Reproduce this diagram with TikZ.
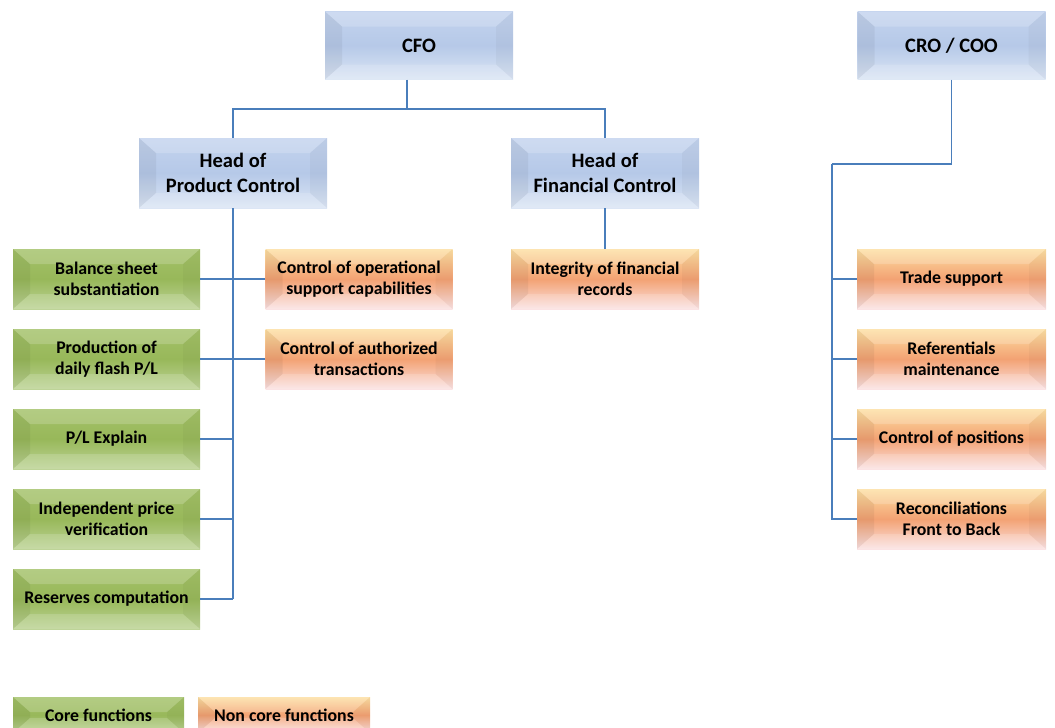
\documentclass[tikz,border=0pt]{standalone}
\usepackage{fontspec}
\setmainfont{Carlito}
\definecolor{lnc}{HTML}{4A7EBB}
\definecolor{bT}{HTML}{C3D3EE}
\definecolor{bM}{HTML}{B6C9E8}
\definecolor{bB}{HTML}{DCE6F5}
\definecolor{gT}{HTML}{A3C168}
\definecolor{gM}{HTML}{98B85A}
\definecolor{gB}{HTML}{BDD496}
\definecolor{oT}{HTML}{FDDFA2}
\definecolor{oM}{HTML}{F3A273}
\definecolor{oB}{HTML}{FBE3E4}
\tikzset{
  bevel/.style={path picture={
    \fill[white,opacity=.18] (path picture bounding box.north west) -- (path picture bounding box.north east)
      -- ([xshift=-17pt,yshift=-15pt]path picture bounding box.north east) -- ([xshift=17pt,yshift=-15pt]path picture bounding box.north west) -- cycle;
    \fill[black,opacity=.05] (path picture bounding box.north west) -- ([xshift=17pt,yshift=-15pt]path picture bounding box.north west)
      -- ([xshift=17pt,yshift=15pt]path picture bounding box.south west) -- (path picture bounding box.south west) -- cycle;
    \fill[black,opacity=.03] (path picture bounding box.north east) -- ([xshift=-17pt,yshift=-15pt]path picture bounding box.north east)
      -- ([xshift=-17pt,yshift=15pt]path picture bounding box.south east) -- (path picture bounding box.south east) -- cycle;
    \fill[white,opacity=.15] (path picture bounding box.south west) -- (path picture bounding box.south east)
      -- ([xshift=-17pt,yshift=15pt]path picture bounding box.south east) -- ([xshift=17pt,yshift=15pt]path picture bounding box.south west) -- cycle;
  }},
  boxbase/.style={inner sep=0pt, align=center, font=\bfseries, text=black, bevel},
  bluebox/.style={boxbase, minimum width=188pt, minimum height=68pt, top color=bT, bottom color=bB, middle color=bM, font=\bfseries\fontsize{20.5}{25}\selectfont},
  greenbox/.style={boxbase, minimum width=187pt, minimum height=60pt, top color=gT, bottom color=gB, middle color=gM, font=\bfseries\fontsize{17.8}{20.5}\selectfont},
  orangebox/.style={boxbase, minimum width=187pt, minimum height=60pt, top color=oT, bottom color=oB, middle color=oM, font=\bfseries\fontsize{17.8}{20.5}\selectfont},
  link/.style={draw=lnc, line width=1.6pt},
  branch/.style={draw=lnc, line width=1.1pt},
}
\begin{document}
\begin{tikzpicture}[x=1pt,y=-1pt]
\useasboundingbox (0,0) rectangle (1055,728);
% top level
\node[bluebox] (cfo) at (419,45.5) {CFO};
\node[bluebox] (cro) at (951.5,45.5) {CRO / COO};
\node[bluebox, minimum height=70pt] (hpc) at (233,173) {Head of\\Product Control};
\node[bluebox, minimum height=70pt] (hfc) at (605,173) {Head of\\Financial Control};
% core functions
\node[greenbox] (g1) at (106.5,279) {Balance sheet\\substantiation};
\node[greenbox] (g2) at (106.5,359) {Production of\\daily flash P/L};
\node[greenbox] (g3) at (106.5,439) {P/L Explain};
\node[greenbox] (g4) at (106.5,519) {Independent price\\verification};
\node[greenbox] (g5) at (106.5,599) {Reserves computation};
% non core (product control)
\node[orangebox] (o1) at (359,279) {Control of operational\\support capabilities};
\node[orangebox] (o2) at (359,359) {Control of authorized\\transactions};
% financial control
\node[orangebox, minimum width=188pt] (f1) at (605,279) {Integrity of financial\\records};
% CRO / COO
\node[orangebox, minimum width=189pt] (r1) at (951.5,279) {Trade support};
\node[orangebox, minimum width=189pt] (r2) at (951.5,359) {Referentials\\maintenance};
\node[orangebox, minimum width=189pt] (r3) at (951.5,439) {Control of positions};
\node[orangebox, minimum width=189pt] (r4) at (951.5,519) {Reconciliations\\Front to Back};
% legend
\node[greenbox, minimum width=171pt, minimum height=36pt] (lg) at (98.5,715) {Core functions};
\node[orangebox, minimum width=172pt, minimum height=36pt] (lo) at (284,715) {Non core functions};
% connectors
\coordinate (j1) at (407,109);
\coordinate (pcb) at (233,599);
\coordinate (cr1) at (832,164);
\draw[link] (cfo.south -| j1) -- (j1);
\draw[branch] (hpc.north) |- (j1) -| (hfc.north);
\draw[link] (hpc.south) -- (pcb);
\foreach \n in {g1,g2,g3,g4} \draw[branch] (\n.east) -- (\n.east -| pcb);
\draw[branch] (g5.east) -- (pcb);
\foreach \n in {o1,o2} \draw[branch] (\n.west) -- (\n.west -| pcb);
\draw[branch] (hfc.south) -- (f1.north);
\draw[link] (cro.south) |- (cr1);
\draw[link] (cr1) |- (r4.west);
\foreach \n in {r1,r2,r3} \draw[branch] (\n.west) -- (\n.west -| cr1);
\end{tikzpicture}
\end{document}
